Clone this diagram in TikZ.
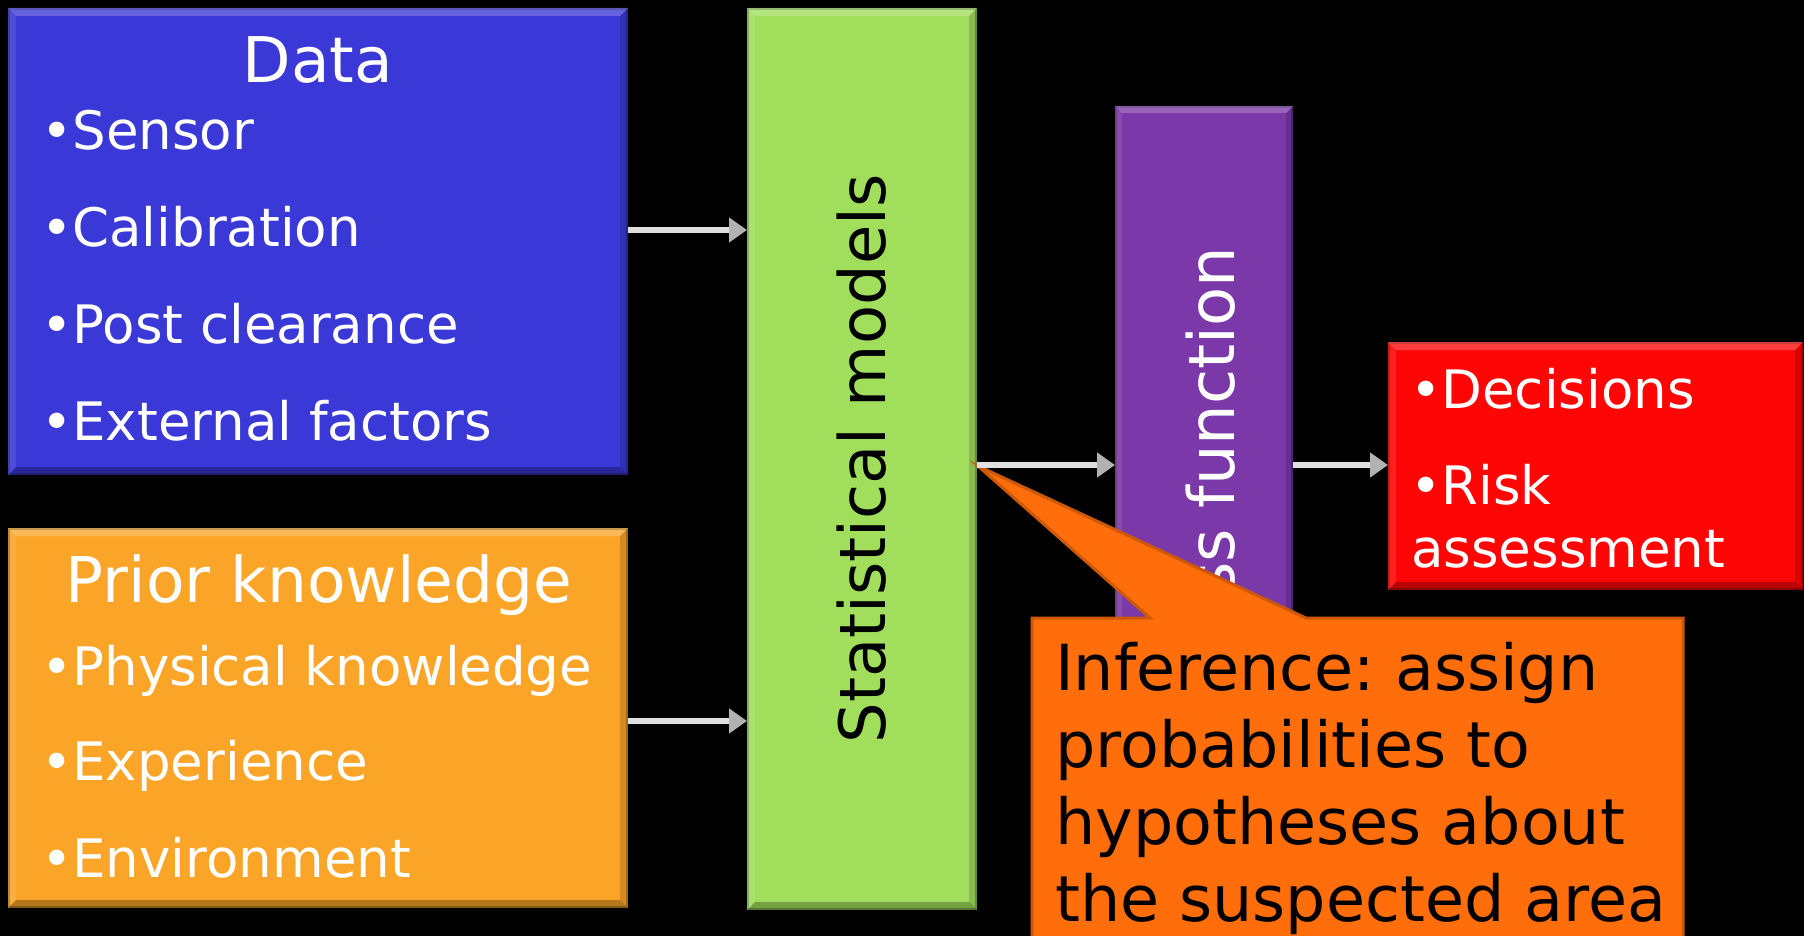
\documentclass[tikz,border=0pt]{standalone}
\usepackage{fontspec}
\setmainfont{DejaVu Sans}
\usetikzlibrary{arrows.meta}
\definecolor{blueC}{RGB}{58,56,214}
\definecolor{priorC}{RGB}{250,165,40}
\definecolor{greenC}{RGB}{160,222,92}
\definecolor{purpleC}{RGB}{122,56,168}
\definecolor{redC}{RGB}{255,6,6}
\definecolor{callC}{RGB}{255,110,10}
\newcommand\bevelfx[2]{%
  \fill[white,opacity=.22] (#1.north west) -- (#1.north east) -- ([shift={(-#2pt,-#2pt)}]#1.north east) -- ([shift={(#2pt,-#2pt)}]#1.north west) -- cycle;
  \fill[black,opacity=.28] (#1.south west) -- (#1.south east) -- ([shift={(-#2pt,#2pt)}]#1.south east) -- ([shift={(#2pt,#2pt)}]#1.south west) -- cycle;
  \fill[white,opacity=.10] (#1.north west) -- (#1.south west) -- ([shift={(#2pt,#2pt)}]#1.south west) -- ([shift={(#2pt,-#2pt)}]#1.north west) -- cycle;
  \fill[black,opacity=.15] (#1.north east) -- (#1.south east) -- ([shift={(-#2pt,#2pt)}]#1.south east) -- ([shift={(-#2pt,-#2pt)}]#1.north east) -- cycle;
}
\tikzset{
  box/.style={fill=#1, draw=#1!75!black, line width=2pt, inner sep=0pt},
  itm/.style={text=white, inner sep=0pt, anchor=base west, font=\fontsize{53}{60}\selectfont},
  ttl/.style={text=white, inner sep=0pt, anchor=base, font=\fontsize{63}{70}\selectfont},
  arr/.style={line width=6pt, draw=black!12, -{Triangle[length=18pt,width=24pt,color=black!30]}},
}
\begin{document}
\begin{tikzpicture}[x=1pt,y=-1pt]
\fill[black] (0,0) rectangle (1804,936);
\useasboundingbox (0,0) rectangle (1804,936);
\clip (0,0) rectangle (1804,936);

% Data box
\node[box=blueC, minimum width=618pt, minimum height=465pt] (data) at (318,241.5) {};
\bevelfx{data}{8}
\node[ttl] (dataT) at (318,83) {Data};
\node[itm] (d1) at (41,150) {•Sensor};
\node[itm] (d2) at (41,247) {•Calibration};
\node[itm] (d3) at (41,343) {•Post clearance};
\node[itm] (d4) at (41,440) {•External factors};

% Prior knowledge box
\node[box=priorC, minimum width=618pt, minimum height=378pt] (prior) at (318,718) {};
\bevelfx{prior}{8}
\node[ttl] (priorT) at (319,602) {Prior knowledge};
\node[itm] (p1) at (41,685) {•Physical knowledge};
\node[itm] (p2) at (41,780) {•Experience};
\node[itm] (p3) at (41,877) {•Environment};

% Statistical models
\node[box=greenC, minimum width=228pt, minimum height=900pt] (stat) at (862,459) {};
\bevelfx{stat}{8}
\node[rotate=90, inner sep=0pt, text=black, font=\fontsize{64}{70}\selectfont] (statT) at (862,459) {Statistical models};

% Loss function
\node[box=purpleC, minimum width=176pt, minimum height=713pt] (loss) at (1204,463.5) {};
\bevelfx{loss}{7}
\node[rotate=90, inner sep=0pt, text=white, font=\fontsize{64}{70}\selectfont] (lossT) at (1211,458) {Loss function};

% Decisions
\node[box=redC, minimum width=413pt, minimum height=246pt] (red) at (1595.5,466) {};
\bevelfx{red}{8}
\node[itm] (r1) at (1410,408) {•Decisions};
\node[itm] (r2) at (1410,504) {•Risk};
\node[itm] (r3) at (1411,567) {assessment};

% Callout
\coordinate (tip) at (978,466);
\fill[callC, draw=callC!80!black, line width=3pt] (1032,618) -- (1150,618) -- (tip) -- (1306,618) -- (1683,618) -- (1683,960) -- (1032,960) -- cycle;
\node[inner sep=0pt, anchor=north west, align=left, text=black, font=\fontsize{63.5}{77}\selectfont] (inf) at (1055,642)
  {Inference:\ assign\\probabilities to\\hypotheses about\\the suspected area};

% Arrows
\draw[arr] (data.east |- 0,230) -- (stat.west |- 0,230);
\draw[arr] (prior.east |- 0,721) -- (stat.west |- 0,721);
\draw[arr] (stat.east |- 0,465) -- (loss.west |- 0,465);
\draw[arr] (loss.east |- 0,465) -- (red.west |- 0,465);
\end{tikzpicture}
\end{document}
